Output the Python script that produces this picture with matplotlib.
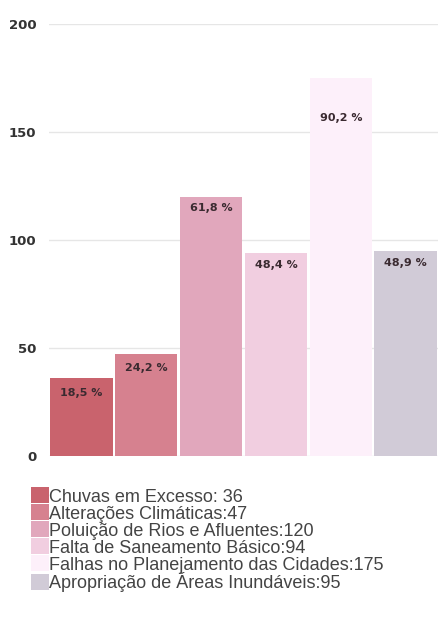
import matplotlib.pyplot as plt
import numpy as np

categories = ["Chuvas em Excesso: 36", "Alterações Climáticas:47",
              "Poluição de Rios e Afluentes:120", "Falta de Saneamento Básico:94",
              "Falhas no Planejamento das Cidades:175", "Apropriação de Áreas Inundáveis:95"]
values = [36, 47, 120, 94, 175, 95]
pct_labels = ["18,5 %", "24,2 %", "61,8 %", "48,4 %", "90,2 %", "48,9 %"]
colors = ["#c9636d", "#d6818f", "#e1a7bc", "#f1cee0", "#fdf0fa", "#d1cbd7"]
label_drop = [11, 10, 8, 9, 29, 9]  # points below bar top

plt.rcParams['font.family'] = ['Liberation Sans', 'DejaVu Sans']

fig = plt.figure(figsize=(4.38, 6.17), dpi=100)
ax = fig.add_axes([0.112, 0.261, 0.888, 0.7])

x = np.arange(len(values))
bars = ax.bar(x, values, width=0.96, color=colors, zorder=2)
for b, lab, d in zip(bars, pct_labels, label_drop):
    ax.annotate(lab, (b.get_x() + b.get_width() / 2, b.get_height()),
                xytext=(0, -d), textcoords="offset points", ha="center", va="center",
                fontsize=8, fontweight="bold", family="DejaVu Sans",
                color="#3a2a30", zorder=3)

ax.set_ylim(0, 200)
ax.set_xlim(-0.5, 5.5)
ax.set_yticks([0, 50, 100, 150, 200])
ax.tick_params(axis="y", length=0, labelsize=9.5, labelcolor="#333333", pad=9)
for t in ax.get_yticklabels():
    t.set_fontweight("bold")
    t.set_family("DejaVu Sans")
ax.set_xticks([])
ax.grid(axis="y", color="#e6e6e6", linewidth=1, zorder=0)
for s in ax.spines.values():
    s.set_visible(False)

fig.legend(bars, categories, loc="upper left", bbox_to_anchor=(0.054, 0.222),
           frameon=False, fontsize=13, handlelength=1.0, handleheight=1.0,
           handletextpad=0.02, labelspacing=-0.07, borderaxespad=0, labelcolor="#444444")

fig.savefig("out.png")
